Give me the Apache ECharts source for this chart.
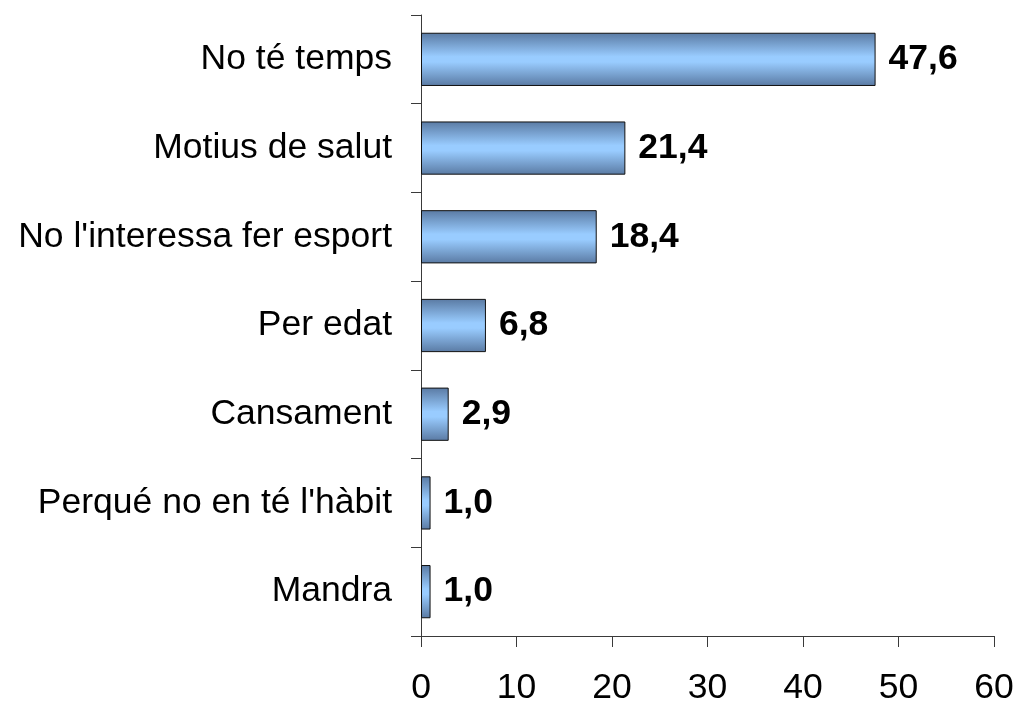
<!DOCTYPE html>
<html>
<head>
<meta charset="utf-8">
<script src="https://cdn.jsdelivr.net/npm/echarts@6/dist/echarts.min.js"></script>
<style>html,body{margin:0;padding:0;background:#fff}#c{width:1017px;height:702px}</style>
</head>
<body>
<div id="c"></div>
<script>
const categories = ["No té temps", "Motius de salut", "No l'interessa fer esport", "Per edat", "Cansament", "Perqué no en té l'hàbit", "Mandra"];
const values = [47.6, 21.4, 18.4, 6.8, 2.9, 1.0, 1.0];
const xTicks = { min: 0, max: 60, interval: 10 };

const chart = echarts.init(document.getElementById('c'), null, { renderer: 'canvas' });
const font = '"Liberation Sans", Arial, sans-serif';
chart.setOption({
  animation: false,
  backgroundColor: '#ffffff',
  grid: { left: 421, right: 23, top: 15, bottom: 66, containLabel: false, outerBoundsMode: 'none' },
  xAxis: {
    type: 'value',
    min: xTicks.min, max: xTicks.max, interval: xTicks.interval,
    splitLine: { show: false },
    axisLine: { show: true, lineStyle: { color: '#3a3a3a', width: 1 } },
    axisTick: { show: true, length: 11, lineStyle: { color: '#3a3a3a' } },
    axisLabel: { color: '#000', fontSize: 35.5, fontFamily: font, margin: 34 }
  },
  yAxis: {
    type: 'category',
    inverse: true,
    data: categories,
    axisLine: { show: true, lineStyle: { color: '#3a3a3a', width: 1 } },
    axisTick: { show: true, length: 10, lineStyle: { color: '#3a3a3a' } },
    axisLabel: { color: '#000', fontSize: 35.5, fontFamily: font, margin: 29 }
  },
  series: [{
    type: 'bar',
    data: values,
    barCategoryGap: '40%',
    itemStyle: {
      borderColor: '#111', borderWidth: 1,
      color: new echarts.graphic.LinearGradient(0, 0, 0, 1, [
        { offset: 0, color: '#5a7aa3' },
        { offset: 0.45, color: '#99ccff' },
        { offset: 0.55, color: '#99ccff' },
        { offset: 1, color: '#5a7aa3' }
      ])
    },
    label: {
      show: true, position: 'right', distance: 13,
      color: '#000', fontSize: 35.5, fontWeight: 'bold', fontFamily: font,
      formatter: p => p.value.toFixed(1).replace('.', ',')
    }
  }]
});
</script>
</body>
</html>
